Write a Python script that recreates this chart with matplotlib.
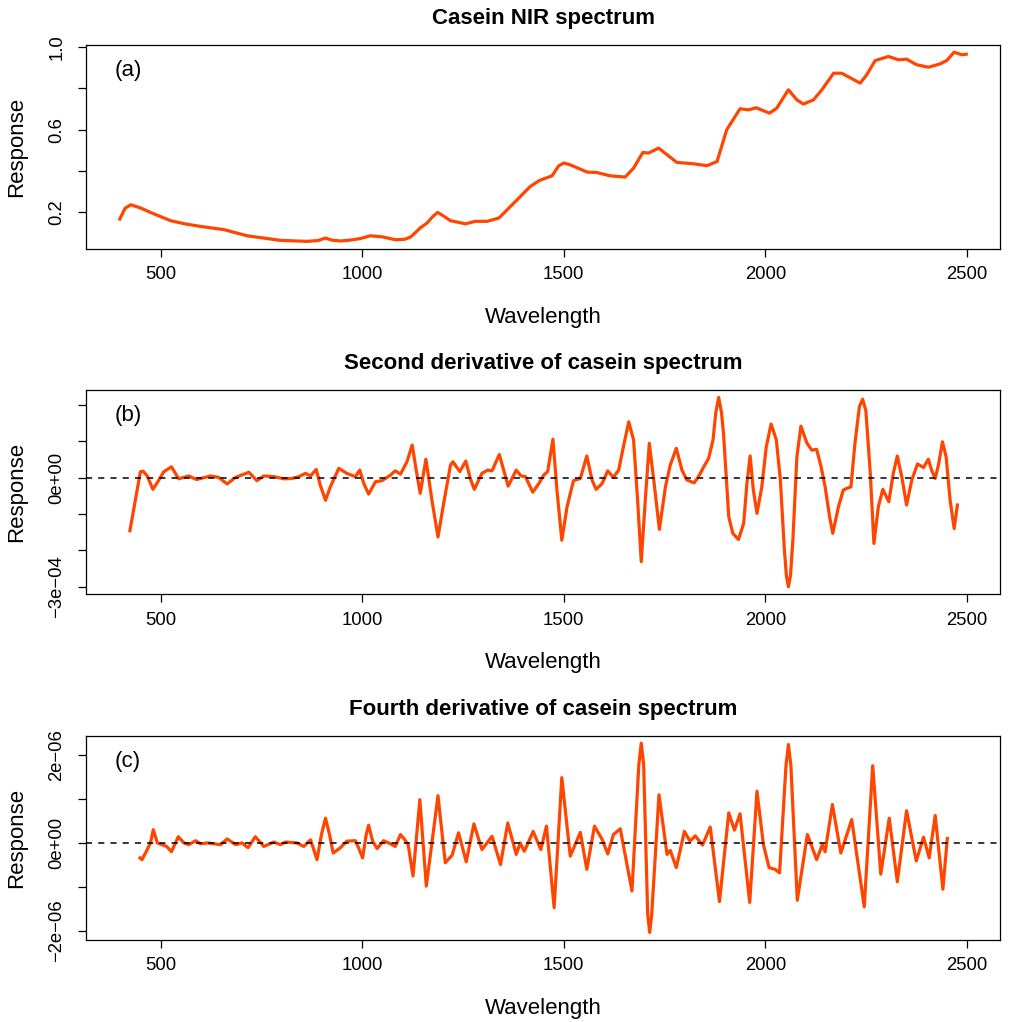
import numpy as np
import matplotlib
matplotlib.use("Agg")
import matplotlib.pyplot as plt

plt.rcParams['font.family'] = ['Liberation Sans', 'DejaVu Sans']

# (a) raw spectrum
wl_a = [399, 412, 426, 450, 475, 500, 525, 560, 600, 657, 715, 760, 797, 863, 890,
        909, 925, 946, 970, 996, 1020, 1050, 1082, 1105, 1120, 1144, 1161, 1175, 1187,
        1200, 1219, 1256, 1281, 1310, 1339, 1376, 1417, 1440, 1471, 1487, 1500, 1516,
        1558, 1582, 1615, 1652, 1673, 1696, 1710, 1735, 1756, 1780, 1822, 1855, 1880,
        1904, 1937, 1958, 1977, 2010, 2028, 2057, 2078, 2094, 2119, 2140, 2169, 2189,
        2235, 2251, 2272, 2305, 2330, 2350, 2375, 2404, 2433, 2450, 2468, 2487, 2498]
resp_a = [0.168, 0.22, 0.237, 0.222, 0.2, 0.18, 0.16, 0.145, 0.132, 0.117, 0.087, 0.075,
          0.065, 0.06, 0.064, 0.076, 0.066, 0.062, 0.066, 0.074, 0.087, 0.082, 0.068,
          0.07, 0.081, 0.125, 0.149, 0.18, 0.2, 0.185, 0.16, 0.145, 0.157, 0.157, 0.173,
          0.245, 0.326, 0.355, 0.377, 0.425, 0.439, 0.43, 0.395, 0.393, 0.377, 0.371,
          0.414, 0.49, 0.487, 0.511, 0.479, 0.442, 0.435, 0.426, 0.446, 0.6, 0.701,
          0.696, 0.706, 0.68, 0.704, 0.793, 0.744, 0.724, 0.744, 0.793, 0.873, 0.873,
          0.825, 0.865, 0.934, 0.954, 0.938, 0.941, 0.914, 0.902, 0.918, 0.935, 0.975,
          0.962, 0.965]

# (b) second derivative, values in units of 1e-4
wl_b = [424, 450, 457, 467, 481, 496, 508, 527, 545, 570, 589, 624, 644, 665, 686, 719,
        739, 756, 781, 806, 826, 843, 859, 872, 886, 896, 909, 921, 942, 962, 983, 994,
        1004, 1016, 1033, 1049, 1070, 1082, 1095, 1111, 1124, 1134, 1144, 1158, 1173,
        1188, 1202, 1219, 1225, 1242, 1257, 1268, 1278, 1297, 1311, 1322, 1340, 1351,
        1362, 1382, 1394, 1405, 1423, 1438, 1450, 1460, 1473, 1483, 1495, 1508, 1524,
        1541, 1557, 1570, 1580, 1595, 1609, 1623, 1636, 1646, 1661, 1673, 1683, 1692,
        1702, 1712, 1723, 1737, 1752, 1764, 1779, 1793, 1805, 1823, 1834, 1847, 1859,
        1870, 1877, 1884, 1891, 1896, 1909, 1919, 1933, 1946, 1954, 1962, 1970, 1979,
        1991, 2002, 2014, 2027, 2037, 2047, 2052, 2057, 2062, 2068, 2078, 2088, 2103,
        2115, 2127, 2138, 2148, 2159, 2167, 2181, 2193, 2202, 2212, 2222, 2233, 2241,
        2249, 2260, 2269, 2280, 2291, 2306, 2317, 2327, 2338, 2350, 2363, 2377, 2392,
        2404, 2412, 2421, 2429, 2439, 2448, 2458, 2468, 2476]
d2_b = [-1.46, 0.165, 0.18, 0.05, -0.32, -0.06, 0.165, 0.30, -0.03, 0.05, -0.05, 0.05,
        0.01, -0.17, 0.01, 0.15, -0.08, 0.05, 0.03, -0.03, -0.02, 0.03, 0.12, 0.05, 0.23,
        -0.2, -0.62, -0.25, 0.26, 0.12, 0.03, 0.21, -0.16, -0.45, -0.11, -0.08, 0.07,
        0.19, 0.1, 0.44, 0.9, 0.21, -0.43, 0.51, -0.62, -1.63, -0.71, 0.35, 0.44, 0.17,
        0.46, -0.02, -0.32, 0.12, 0.21, 0.19, 0.64, 0.21, -0.23, 0.21, 0.05, 0.03, -0.40,
        -0.16, 0.07, 0.17, 1.06, -0.34, -1.72, -0.80, -0.08, -0.02, 0.6, -0.06, -0.32,
        -0.16, 0.19, 0.01, 0.21, 0.76, 1.54, 1.04, -0.62, -2.31, -0.62, 0.95, -0.06,
        -1.42, -0.25, 0.35, 0.81, 0.21, -0.06, -0.14, 0.03, 0.30, 0.53, 1.04, 1.8, 2.21,
        1.8, 1.22, -1.07, -1.53, -1.70, -1.26, -0.16, 0.6, -0.34, -0.98, -0.25, 0.85,
        1.48, 1.04, -0.06, -1.99, -2.7, -3.0, -2.7, -1.72, 0.58, 1.42, 0.95, 0.76, 0.78,
        0.30, -0.25, -1.07, -1.53, -0.80, -0.34, -0.29, -0.25, 0.95, 1.96, 2.16, 1.85,
        0.12, -1.81, -0.80, -0.32, -0.66, 0.12, 0.60, 0.03, -0.75, -0.06, 0.38, 0.28,
        0.51, 0.21, -0.02, 0.35, 0.99, 0.58, -0.62, -1.40, -0.75]

# (c) fourth derivative, values in units of 1e-6
wl_c = [449, 454, 467, 475, 482, 492, 504, 515, 527, 544, 558, 570, 587, 599, 616, 649,
        665, 686, 702, 717, 735, 756, 781, 797, 810, 838, 855, 872, 888, 899, 909, 919,
        928, 946, 962, 983, 991, 1001, 1010, 1016, 1026, 1037, 1053, 1070, 1082, 1095,
        1105, 1114, 1126, 1143, 1159, 1188, 1206, 1223, 1239, 1258, 1277, 1297, 1322,
        1343, 1361, 1382, 1392, 1402, 1424, 1443, 1457, 1476, 1495, 1516, 1541, 1557,
        1576, 1595, 1609, 1623, 1640, 1669, 1686, 1692, 1698, 1708, 1713, 1718, 1736,
        1756, 1764, 1779, 1799, 1813, 1826, 1844, 1863, 1886, 1909, 1923, 1937, 1961,
        1979, 1995, 2009, 2024, 2035, 2051, 2057, 2063, 2079, 2104, 2127, 2141, 2148,
        2166, 2187, 2214, 2245, 2266, 2286, 2307, 2327, 2350, 2374, 2392, 2406, 2421,
        2440, 2451]
d4_c = [-0.34, -0.38, -0.15, 0.0, 0.30, 0.0, -0.04, -0.08, -0.20, 0.14, 0.0, -0.04, 0.05,
        -0.02, 0.0, -0.04, 0.09, -0.04, 0.0, -0.11, 0.14, -0.08, 0.02, -0.04, 0.02, 0.0,
        -0.08, 0.07, -0.38, 0.19, 0.56, 0.19, -0.23, -0.11, 0.04, 0.05, -0.11, -0.34,
        0.19, 0.40, 0.04, -0.13, 0.05, -0.02, -0.08, 0.19, 0.08, -0.04, -0.75, 0.98,
        -0.98, 1.07, -0.45, -0.28, 0.23, -0.43, 0.43, -0.15, 0.15, -0.49, 0.45, -0.26,
        0.0, -0.19, 0.26, -0.15, 0.38, -1.47, 1.48, -0.30, 0.24, -0.60, 0.38, 0.08,
        -0.25, 0.19, 0.32, -1.09, 1.77, 2.26, 1.77, -1.62, -2.03, -1.62, 1.09, -0.26,
        -0.17, -0.56, 0.26, 0.04, 0.16, -0.05, 0.36, -1.33, 0.68, 0.29, 0.66, -1.35,
        1.17, -0.04, -0.56, -0.60, -0.68, 1.76, 2.23, 1.76, -1.30, 0.19, -0.38, -0.04,
        -0.20, 0.87, -0.23, 0.53, -1.45, 1.75, -0.71, 0.56, -0.88, 0.73, -0.41, 0.13,
        -0.34, 0.62, -1.05, 0.10]

titles = ["Casein NIR spectrum",
          "Second derivative of casein spectrum",
          "Fourth derivative of casein spectrum"]
tags = ["(a)", "(b)", "(c)"]
yticks = [[0.2, 0.4, 0.6, 0.8, 1.0],
          [-3e-4, -2e-4, -1e-4, 0, 1e-4, 2e-4],
          [-2e-6, -1e-6, 0, 1e-6, 2e-6]]
ytlabels = [["0.2", "", "0.6", "", "1.0"],
            ["\u22123e\u221204", "", "", "0e+00", "", ""],
            ["\u22122e\u221206", "", "0e+00", "", "2e\u221206"]]

series = [(np.array(wl_a), np.array(resp_a)),
          (np.array(wl_b), np.array(d2_b) * 1e-4),
          (np.array(wl_c), np.array(d4_c) * 1e-6)]

span = wl_a[-1] - wl_a[0]
xlim = (wl_a[0] - 0.04 * span, wl_a[-1] + 0.04 * span)

fig = plt.figure(figsize=(10.09, 10.22), dpi=100)
bottoms = [0.7564, 0.4185, 0.0802]

for k in range(3):
    ax = fig.add_axes([0.0852, bottoms[k], 0.906, 0.2])
    x, y = series[k]
    ax.plot(x, y, color="#FF4500", lw=2.3)
    if k > 0:
        ax.axhline(0, color="black", lw=1.1, dashes=(4, 4))
    ax.margins(x=0.04, y=0.04)
    ax.set_xlim(xlim)
    ax.set_xticks([500, 1000, 1500, 2000, 2500])
    ax.set_yticks(yticks[k])
    ax.set_yticklabels(ytlabels[k])
    ax.tick_params(direction="out", length=6, width=0.9, labelsize=13.3)
    ax.tick_params(axis="x", pad=6.5)
    ax.tick_params(axis="y", labelrotation=90, pad=9)
    for lab in ax.get_yticklabels():
        lab.set_verticalalignment("center")
    for s in ax.spines.values():
        s.set_linewidth(0.9)
    ax.set_title(titles[k], fontsize=16, fontweight="bold", pad=15)
    ax.set_xlabel("Wavelength", fontsize=16, labelpad=17)
    ax.set_ylabel("Response", fontsize=16, labelpad=15)
    ax.text(0.046, 0.875, tags[k], transform=ax.transAxes, fontsize=16,
            ha="center", va="center")

fig.savefig("out.png", dpi=100)
